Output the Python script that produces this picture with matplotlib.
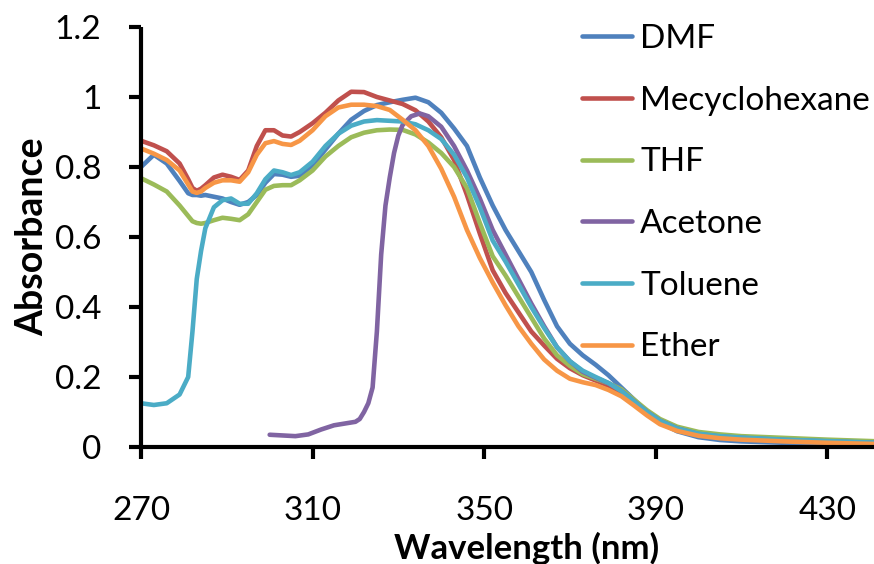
"""UV-vis absorbance spectra of the dye in six solvents."""

import matplotlib
matplotlib.use("Agg")
import matplotlib.pyplot as plt

plt.rcParams["font.family"] = ["Lato", "DejaVu Sans"]

# wavelength grid shared by five of the solvents [nm]
wl = [270, 273, 276, 279, 281, 282, 283, 284, 285, 287, 289, 291, 293, 295, 297, 299,
      301, 303, 305, 307, 310, 313, 316, 319, 322, 325, 328, 331, 334, 337, 340, 343,
      346, 349, 352, 355, 358, 361, 364, 367, 370, 373, 376, 379, 382, 385, 388, 391,
      395, 400, 405, 410, 420, 430, 440, 450]

dmf = [0.80, 0.835, 0.81, 0.76, 0.725, 0.72, 0.72, 0.718, 0.72, 0.715, 0.71, 0.70, 0.692, 0.70, 0.72, 0.755,
       0.78, 0.778, 0.772, 0.775, 0.805, 0.85, 0.895, 0.935, 0.96, 0.977, 0.985, 0.992, 0.998, 0.985, 0.955, 0.91,
       0.86, 0.77, 0.69, 0.62, 0.56, 0.50, 0.42, 0.345, 0.295, 0.262, 0.235, 0.205, 0.17, 0.135, 0.10, 0.07,
       0.045, 0.028, 0.02, 0.016, 0.012, 0.01, 0.008, 0.006]
mecyclohexane = [0.875, 0.862, 0.845, 0.81, 0.765, 0.74, 0.732, 0.738, 0.748, 0.77, 0.778, 0.772, 0.763, 0.79, 0.86, 0.905,
                 0.905, 0.89, 0.887, 0.90, 0.925, 0.955, 0.99, 1.015, 1.014, 1.0, 0.99, 0.98, 0.962, 0.93, 0.885, 0.82,
                 0.72, 0.61, 0.505, 0.44, 0.385, 0.33, 0.29, 0.252, 0.225, 0.205, 0.19, 0.175, 0.155, 0.125, 0.095, 0.07,
                 0.05, 0.035, 0.028, 0.024, 0.019, 0.015, 0.012, 0.009]
thf = [0.768, 0.75, 0.73, 0.69, 0.66, 0.645, 0.64, 0.638, 0.64, 0.648, 0.655, 0.652, 0.648, 0.665, 0.70, 0.735,
       0.746, 0.748, 0.748, 0.762, 0.79, 0.83, 0.86, 0.885, 0.898, 0.905, 0.907, 0.906, 0.893, 0.87, 0.84, 0.80,
       0.74, 0.64, 0.545, 0.49, 0.43, 0.37, 0.31, 0.262, 0.232, 0.208, 0.195, 0.182, 0.165, 0.135, 0.105, 0.08,
       0.058, 0.043, 0.036, 0.031, 0.026, 0.021, 0.017, 0.013]
toluene = [0.125, 0.12, 0.125, 0.15, 0.20, 0.33, 0.48, 0.56, 0.625, 0.685, 0.705, 0.71, 0.695, 0.695, 0.725, 0.765,
           0.79, 0.785, 0.777, 0.785, 0.815, 0.86, 0.895, 0.918, 0.93, 0.934, 0.932, 0.93, 0.922, 0.905, 0.88, 0.835,
           0.77, 0.685, 0.59, 0.53, 0.465, 0.40, 0.34, 0.285, 0.245, 0.218, 0.20, 0.183, 0.16, 0.13, 0.10, 0.075,
           0.053, 0.038, 0.031, 0.027, 0.021, 0.017, 0.013, 0.01]
ether = [0.853, 0.838, 0.82, 0.79, 0.75, 0.73, 0.726, 0.73, 0.74, 0.755, 0.762, 0.762, 0.758, 0.785, 0.835, 0.868,
         0.874, 0.866, 0.863, 0.875, 0.905, 0.945, 0.97, 0.978, 0.978, 0.974, 0.963, 0.935, 0.905, 0.86, 0.795, 0.715,
         0.62, 0.54, 0.47, 0.405, 0.345, 0.295, 0.25, 0.218, 0.195, 0.185, 0.177, 0.163, 0.145, 0.118, 0.09, 0.065,
         0.046, 0.032, 0.025, 0.021, 0.016, 0.012, 0.009, 0.007]

# acetone is only measured above its cut-off
wl_acetone = [300, 303, 306, 309, 312, 315, 318, 320, 321, 322, 323, 324, 325, 326, 327, 328,
              329, 330, 331, 333, 335, 337, 340, 343, 346, 349, 352, 355, 358, 361, 364, 367,
              370, 373, 376, 379, 382, 385, 388, 391, 395, 400, 405, 410, 420, 430, 440, 450]
acetone = [0.035, 0.033, 0.031, 0.036, 0.05, 0.062, 0.068, 0.072, 0.08, 0.10, 0.125, 0.17, 0.33, 0.55, 0.69, 0.77,
           0.84, 0.89, 0.92, 0.945, 0.953, 0.945, 0.915, 0.86, 0.79, 0.71, 0.62, 0.55, 0.48, 0.41, 0.345, 0.285,
           0.245, 0.215, 0.198, 0.182, 0.16, 0.13, 0.10, 0.075, 0.053, 0.037, 0.03, 0.026, 0.02, 0.016, 0.012, 0.009]

x_ticks = [270, 310, 350, 390, 430]
y_ticks = [0, 0.2, 0.4, 0.6, 0.8, 1, 1.2]
y_tick_labels = ["0", "0.2", "0.4", "0.6", "0.8", "1", "1.2"]

series = [
    ("DMF", wl, dmf, "#4F81BD"),
    ("Mecyclohexane", wl, mecyclohexane, "#C0504D"),
    ("THF", wl, thf, "#9BBB59"),
    ("Acetone", wl_acetone, acetone, "#8064A2"),
    ("Toluene", wl, toluene, "#4BACC6"),
    ("Ether", wl, ether, "#F79646"),
]

fig = plt.figure(figsize=(8.74, 5.64), dpi=100)
ax = fig.add_axes([141 / 874, 117 / 564, 772 / 874, 420 / 564])

for name, x, y, color in series:
    ax.plot(x, y, color=color, linewidth=3.3, label=name, solid_capstyle="round")

ax.set_xlim(270, 450)
ax.set_ylim(0, 1.2)
ax.set_xticks(x_ticks)
ax.set_yticks(y_ticks)
ax.set_yticklabels(y_tick_labels)

for side in ("top", "right"):
    ax.spines[side].set_visible(False)
for side in ("left", "bottom"):
    ax.spines[side].set_linewidth(3.0)
    ax.spines[side].set_capstyle("butt")

ax.tick_params(axis="both", direction="out", length=8.5, width=3.0, labelsize=24)
ax.tick_params(axis="y", pad=20)
ax.tick_params(axis="x", pad=27)

ax.set_xlabel("Wavelength (nm)", fontsize=25, fontweight="bold", labelpad=4)
ax.set_ylabel("Absorbance", fontsize=27, fontweight="bold", labelpad=4)

ax.legend(loc="upper left", bbox_to_anchor=(582 / 874, 1 - 24 / 564),
          bbox_transform=fig.transFigure, frameon=False, fontsize=24,
          handlelength=1.5, handletextpad=0.25, labelspacing=0.95,
          borderpad=0, borderaxespad=0)

fig.savefig("out.png", dpi=100)
plt.close(fig)
